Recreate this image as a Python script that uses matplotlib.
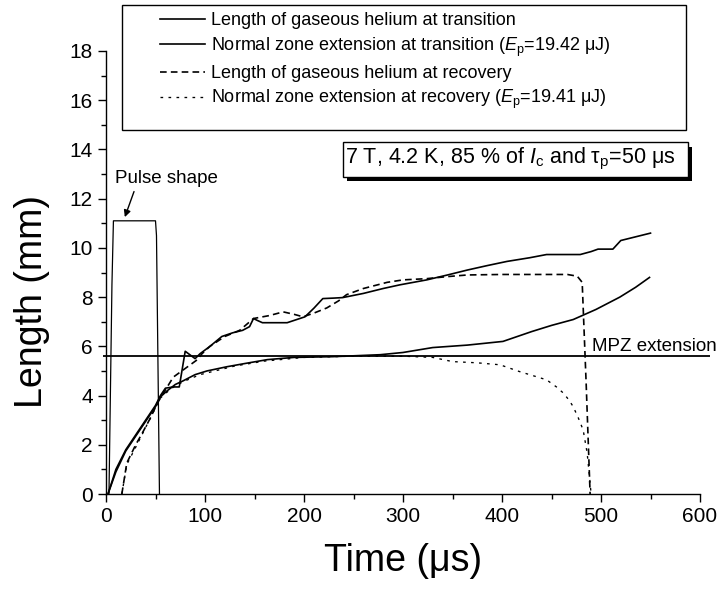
import numpy as np
import matplotlib
matplotlib.use('Agg')
import matplotlib.pyplot as plt
from matplotlib.patches import Rectangle
from matplotlib.lines import Line2D

plt.rcParams['font.family'] = ['Liberation Sans', 'DejaVu Sans']
plt.rcParams['mathtext.fontset'] = 'custom'
plt.rcParams['mathtext.rm'] = 'Liberation Sans'
plt.rcParams['mathtext.it'] = 'Liberation Sans:italic'

# length of gaseous helium at transition (upper solid)
t_he_tr = [2, 10, 20, 30, 40, 50, 55, 60, 68, 74, 80, 85, 90, 95, 105, 117, 128, 138, 145, 149,
           153, 158, 170, 183, 192, 201, 210, 219, 230, 239, 260, 280, 297, 324, 345, 365, 385,
           405, 428, 445, 465, 479, 490, 497, 505, 512, 520, 535, 550]
L_he_tr = [0, 1.0, 1.8, 2.4, 3.0, 3.6, 4.0, 4.3, 4.35, 4.35, 5.8, 5.65, 5.5, 5.7, 6.0, 6.4, 6.55,
           6.65, 6.8, 7.13, 7.05, 6.96, 6.96, 6.96, 7.08, 7.2, 7.55, 7.94, 7.96, 7.98, 8.15, 8.35,
           8.5, 8.7, 8.9, 9.1, 9.28, 9.45, 9.6, 9.73, 9.73, 9.73, 9.85, 9.95, 9.95, 9.95, 10.3,
           10.45, 10.6]

# normal zone extension at transition (lower solid)
t_nz_tr = [2, 10, 20, 30, 40, 50, 55, 62, 70, 78, 90, 102, 122, 140, 163, 190, 229, 277, 300,
           330, 365, 401, 430, 450, 472, 495, 519, 535, 549]
L_nz_tr = [0, 0.9, 1.75, 2.35, 2.95, 3.55, 3.95, 4.2, 4.45, 4.6, 4.85, 5.0, 5.17, 5.3, 5.46,
           5.55, 5.58, 5.66, 5.75, 5.95, 6.05, 6.2, 6.6, 6.85, 7.09, 7.5, 8.0, 8.4, 8.8]

# length of gaseous helium at recovery (dashed)
t_he_rec = [16, 21, 30, 37, 45, 52, 58, 68, 80, 92, 97, 105, 120, 135, 149, 165, 179, 190, 199,
            210, 223, 235, 243, 260, 284, 300, 324, 344, 365, 400, 428, 466, 476, 481, 485, 489]
L_he_rec = [0, 1.26, 2.0, 2.5, 3.1, 3.7, 4.1, 4.75, 5.1, 5.45, 5.7, 6.0, 6.4, 6.65, 7.13, 7.25,
            7.4, 7.3, 7.2, 7.35, 7.56, 7.85, 8.1, 8.35, 8.6, 8.7, 8.75, 8.83, 8.9, 8.92, 8.92,
            8.92, 8.85, 8.6, 4.5, 0]

# normal zone extension at recovery (sparse dashes)
t_nz_rec = [16, 21, 30, 40, 50, 55, 62, 70, 80, 95, 110, 130, 160, 200, 250, 300, 330, 350,
            375, 398, 418, 432, 445, 455, 462, 468, 472, 477, 482, 486, 489, 490]
L_nz_rec = [0, 1.2, 1.9, 2.7, 3.5, 3.9, 4.15, 4.4, 4.6, 4.85, 5.0, 5.2, 5.4, 5.55, 5.6, 5.6,
            5.55, 5.38, 5.33, 5.25, 4.97, 4.8, 4.64, 4.35, 4.1, 3.8, 3.54, 3.1, 2.6, 1.67, 0.45, 0]

# pulse shape
t_pulse = [3, 6, 7.5, 50, 51, 54]
L_pulse = [0, 8.5, 11.1, 11.1, 10.5, 0]

mpz_level = 5.6

labels = ['Length of gaseous helium at transition',
          'Normal zone extension at transition ($E_\\mathrm{p}$=19.42 \u03bcJ)',
          'Length of gaseous helium at recovery',
          'Normal zone extension at recovery ($E_\\mathrm{p}$=19.41 \u03bcJ)']

fig = plt.figure(figsize=(7.24, 5.91), dpi=100)
ax = fig.add_axes([106/724, 1-494/591, 594/724, 443/591])

lw = 1.2
ax.plot(t_pulse, L_pulse, 'k-', lw=0.9)
ax.plot(t_he_tr, L_he_tr, 'k-', lw=lw)
ax.plot(t_nz_tr, L_nz_tr, 'k-', lw=lw)
ax.plot(t_he_rec, L_he_rec, 'k', lw=lw, dashes=(4, 2.5))
ax.plot(t_nz_rec, L_nz_rec, 'k', lw=lw * 0.8, dashes=(2, 4))
ax.hlines(mpz_level, -3, 610, colors='k', lw=1.3, clip_on=False)

ax.set_xlim(0, 600)
ax.set_ylim(0, 18)
ax.set_xticks(np.arange(0, 601, 100))
ax.set_xticks(np.arange(0, 601, 50), minor=True)
ax.set_yticks(np.arange(0, 19, 2))
ax.set_yticks(np.arange(0, 19, 1), minor=True)
ax.tick_params(which='major', direction='out', length=6, width=1, labelsize=15)
ax.tick_params(which='minor', direction='out', length=3.5, width=1)
for s in ['top', 'right']:
    ax.spines[s].set_visible(False)
for s in ['left', 'bottom']:
    ax.spines[s].set_linewidth(1)

ax.set_xlabel('Time (\u03bcs)', fontsize=27)
ax.set_ylabel('Length (mm)', fontsize=27)
ax.yaxis.set_label_coords(-0.095, 0.435)
ax.xaxis.set_label_coords(0.5, -0.11)

# text annotations
ax.annotate('Pulse shape', xy=(19, 11.25), xytext=(9, 12.8), fontsize=13.5,
            ha='left', va='center',
            arrowprops=dict(arrowstyle='-|>', color='k', lw=1, relpos=(0.2, 0),
                            shrinkA=1, shrinkB=0, mutation_scale=10))
ax.text(491, 5.8, 'MPZ extension', fontsize=13.5, ha='left', va='baseline', clip_on=False)

ax.add_patch(Rectangle((243, 12.7), 349, 1.4, fc='k', ec='none', zorder=5, clip_on=False))
ax.add_patch(Rectangle((239, 12.9), 349, 1.4, fc='white', ec='k', lw=1, zorder=6, clip_on=False))
ax.text(241, 13.6, '7 T, 4.2 K, 85 % of $I_\\mathrm{c}$ and \u03c4$_\\mathrm{p}$=50 \u03bcs',
        fontsize=15.5, ha='left', va='center', zorder=7)

# legend
handles = [Line2D([], [], color='k', lw=lw),
           Line2D([], [], color='k', lw=lw),
           Line2D([], [], color='k', lw=lw, dashes=(4, 2.5)),
           Line2D([], [], color='k', lw=lw * 0.8, dashes=(2, 4))]
fig.patches.append(Rectangle((122/724, 1-130/591), 564/724, 125/591, fill=False, ec='k', lw=1,
                             transform=fig.transFigure, figure=fig))
fig.legend(handles, labels, loc='upper left', bbox_to_anchor=(160/724, 1-12/591),
           bbox_transform=fig.transFigure, frameon=False, fontsize=13, borderpad=0,
           borderaxespad=0, handlelength=2.5, handletextpad=0.3, labelspacing=0.35)

fig.savefig('out.png', dpi=100)
